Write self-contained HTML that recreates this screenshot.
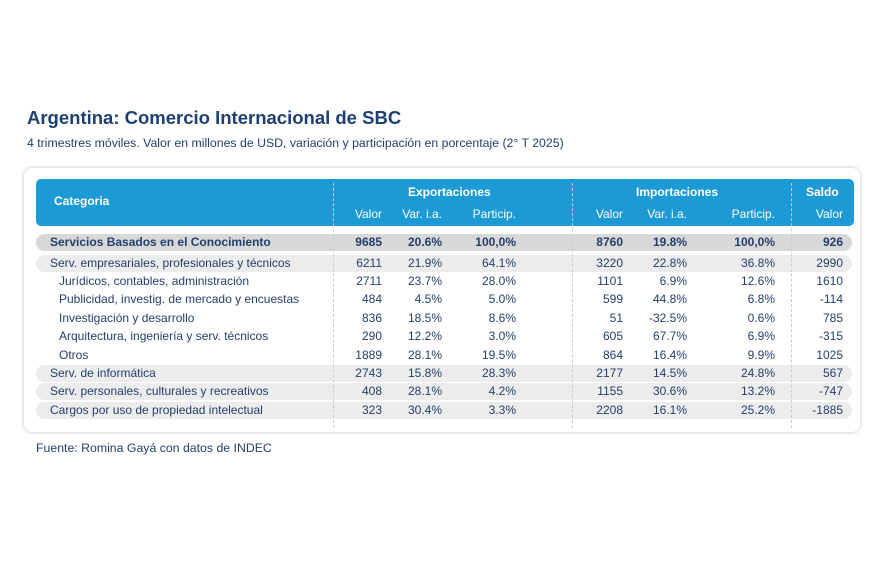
<!DOCTYPE html>
<html><head><meta charset="utf-8"><style>
body{margin:0;width:870px;height:580px;background:#fff;position:relative;overflow:hidden;font-family:"Liberation Sans",sans-serif;color:#22406e}
.a{position:absolute;white-space:nowrap}
.card{position:absolute;left:24px;top:168px;width:836px;height:264px;border-radius:8px;box-shadow:0 0 4px rgba(0,0,0,.25);background:#fff}
.hdr{position:absolute;left:36px;top:179px;width:818px;height:47px;background:#1c9ad6;border-radius:5px}
.band{position:absolute;left:36px;width:816px;height:17px;background:#ececec;border-radius:9px}
.dash{position:absolute;width:0;border-left:1px dashed #bbb}
.hd{color:#fff;font-size:12px}
.r{font-size:12px;text-align:right;width:60px}
</style></head><body>
<div class="a" style="left:27px;top:107px;font-size:18.5px;font-weight:bold;color:#1e3f73">Argentina: Comercio Internacional de SBC</div>
<div class="a" style="left:27px;top:136px;font-size:12.3px">4 trimestres móviles. Valor en millones de USD, variación y participación en porcentaje (2° T 2025)</div>
<div class="card"></div>
<div class="hdr"></div>
<div class="band" style="top:234px;background:#d8d8d8"></div>
<div class="band" style="top:255px"></div>
<div class="band" style="top:365px"></div>
<div class="band" style="top:383px"></div>
<div class="band" style="top:402px"></div>
<div class="dash" style="left:333px;top:183px;height:245px;border-color:#ccc"></div>
<div class="dash" style="left:572px;top:183px;height:245px;border-color:#ccc"></div>
<div class="dash" style="left:791px;top:183px;height:245px;border-color:#ccc"></div>
<div class="a hd" style="left:54px;top:194px;font-weight:bold">Categoria</div>
<div class="a hd" style="left:408px;top:185px;font-weight:bold">Exportaciones</div>
<div class="a hd" style="left:636px;top:185px;font-weight:bold">Importaciones</div>
<div class="a hd" style="left:806px;top:185px;font-weight:bold">Saldo</div>
<div id="rows"></div>
<div class="a" style="left:36px;top:441px;font-size:12.3px">Fuente: Romina Gayá con datos de INDEC</div>
<script>
var cols=[382,442,516,623,687,775,843];
var hs=["Valor","Var. i.a.","Particip.","Valor","Var. i.a.","Particip.","Valor"];
var o="";
hs.forEach(function(t,i){o+='<div class="a hd r" style="left:'+(cols[i]-60)+'px;top:207px">'+t+'</div>';});
var rows=[
[235,"Servicios Basados en el Conocimiento",50,1,["9685","20.6%","100,0%","8760","19.8%","100,0%","926"]],
[256,"Serv. empresariales, profesionales y técnicos",50,0,["6211","21.9%","64.1%","3220","22.8%","36.8%","2990"]],
[274,"Jurídicos, contables, administración",59,0,["2711","23.7%","28.0%","1101","6.9%","12.6%","1610"]],
[292,"Publicidad, investig. de mercado y encuestas",59,0,["484","4.5%","5.0%","599","44.8%","6.8%","-114"]],
[311,"Investigación y desarrollo",59,0,["836","18.5%","8.6%","51","-32.5%","0.6%","785"]],
[329,"Arquitectura, ingeniería y serv. técnicos",59,0,["290","12.2%","3.0%","605","67.7%","6.9%","-315"]],
[348,"Otros",59,0,["1889","28.1%","19.5%","864","16.4%","9.9%","1025"]],
[366,"Serv. de informática",50,0,["2743","15.8%","28.3%","2177","14.5%","24.8%","567"]],
[384,"Serv. personales, culturales y recreativos",50,0,["408","28.1%","4.2%","1155","30.6%","13.2%","-747"]],
[403,"Cargos por uso de propiedad intelectual",50,0,["323","30.4%","3.3%","2208","16.1%","25.2%","-1885"]]];
rows.forEach(function(r){var fw=r[3]?"font-weight:bold;":"";
o+='<div class="a" style="left:'+r[2]+'px;top:'+r[0]+'px;font-size:12px;'+fw+'">'+r[1]+'</div>';
r[4].forEach(function(v,i){o+='<div class="a r" style="left:'+(cols[i]-60)+'px;top:'+r[0]+'px;'+fw+'">'+v+'</div>';});});
document.getElementById("rows").innerHTML=o;
</script>
</body></html>
